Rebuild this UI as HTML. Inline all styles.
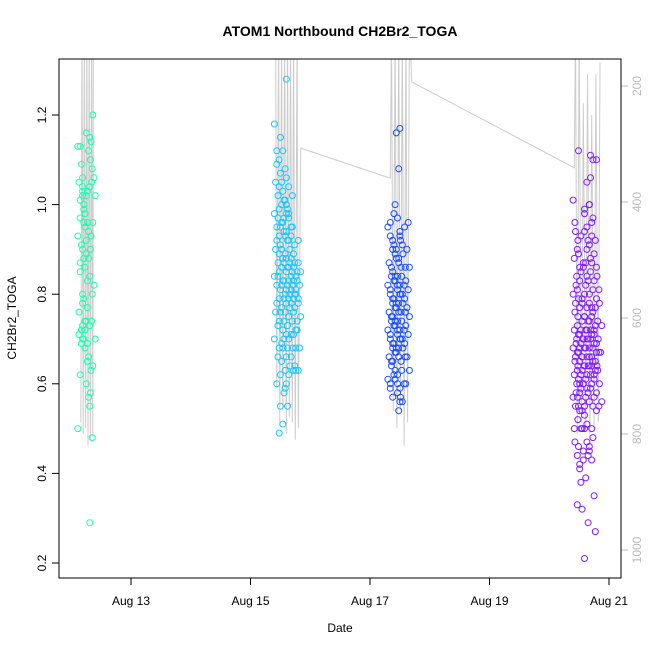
<!DOCTYPE html>
<html><head><meta charset="utf-8"><style>
body{margin:0;background:#fff;}
svg{display:block;font-family:"Liberation Sans",Arial,sans-serif;}
</style></head><body>
<svg id="chart" width="650" height="650" viewBox="0 0 650 650">
<defs><clipPath id="plotclip"><rect x="59" y="59" width="562" height="519"/></clipPath></defs>
<text x="340" y="36" text-anchor="middle" font-size="14" font-weight="bold">ATOM1 Northbound CH2Br2_TOGA</text>
<text x="340" y="632" text-anchor="middle" font-size="12">Date</text>
<text transform="translate(16,318) rotate(-90)" text-anchor="middle" font-size="12">CH2Br2_TOGA</text>
<g id="pressure" clip-path="url(#plotclip)"></g>
<g id="points"></g>
<g id="axes"></g>
<rect x="59" y="59" width="562" height="519" fill="none" stroke="#000" stroke-width="1"/>
</svg>
<script>
const xTicks = [13, 15, 17, 19, 21];
const xTickLabels = ["Aug 13", "Aug 15", "Aug 17", "Aug 19", "Aug 21"];
const yTicks = [0.2, 0.4, 0.6, 0.8, 1.0, 1.2];
const yTickLabels = ["0.2", "0.4", "0.6", "0.8", "1.0", "1.2"];
const pTicks = [200, 400, 600, 800, 1000];
const pTickLabels = ["200", "400", "600", "800", "1000"];

const clusterColors = ["#1affb2", "#1ac6ff", "#1a4dff", "#801aff"];
const c1Times = [12.15, 12.19, 12.23, 12.27, 12.31, 12.36];
const c1Values = [
 [0.50,0.62,0.73,0.71,0.69,0.93,0.97,1.02,1.05,1.09,1.13,0.87,0.80,0.76,0.72],
 [0.99,1.01,1.03,0.95,0.91,0.88,0.85,0.78,0.74,0.72,0.70,1.13,1.04],
 [0.96,0.92,0.90,0.86,0.83,0.79,0.74,0.70,0.68,0.65,1.00,1.02,1.06],
 [0.55,0.60,0.66,0.72,0.77,0.84,0.89,0.94,0.98,1.03,1.15,1.16],
 [0.29,0.48,0.57,0.63,0.69,0.73,0.80,0.88,0.93,0.96,1.04,1.08,1.12,1.14],
 [0.58,0.64,0.70,0.74,0.82,0.90,0.96,1.02,1.05,1.06,1.10,1.20]];
const c2Times = [15.44, 15.48, 15.52, 15.56, 15.60, 15.64, 15.68, 15.72, 15.76, 15.80];
const c2Values = [
 [1.18,1.12,1.10,1.05,1.02,0.98,0.95,0.93,0.90,0.87,0.84,0.82,0.79,0.76,0.73,0.70],
 [1.15,1.09,1.04,1.00,0.97,0.95,0.92,0.89,0.86,0.84,0.81,0.78,0.74,0.69,0.66,0.62,0.60],
 [1.07,1.03,0.99,0.96,0.94,0.91,0.88,0.85,0.82,0.79,0.76,0.72,0.68,0.65,0.58,0.55,0.51,0.49],
 [1.28,1.12,1.08,1.05,1.01,0.98,0.96,0.93,0.90,0.87,0.85,0.83,0.80,0.77,0.74,0.71,0.68,0.63],
 [1.06,1.04,1.01,0.99,0.97,0.94,0.92,0.89,0.86,0.83,0.81,0.79,0.76,0.73,0.70,0.66,0.62,0.59,0.55],
 [1.00,0.97,0.95,0.92,0.90,0.88,0.86,0.84,0.82,0.80,0.78,0.75,0.71,0.68,0.64,0.60],
 [1.02,0.98,0.93,0.89,0.87,0.85,0.83,0.81,0.79,0.77,0.74,0.70,0.66,0.63],
 [0.95,0.91,0.88,0.86,0.84,0.82,0.80,0.78,0.76,0.72,0.68,0.64],
 [0.92,0.87,0.85,0.83,0.81,0.79,0.77,0.74,0.71,0.68,0.63],
 [0.87,0.85,0.83,0.82,0.80,0.78,0.75,0.72,0.68,0.63]];
const c3Times = [17.34, 17.38, 17.42, 17.46, 17.50, 17.55, 17.62];
const c3Values = [
 [0.95,0.93,0.90,0.87,0.84,0.82,0.80,0.78,0.76,0.74,0.72,0.70,0.68,0.66,0.64,0.61,0.59,0.57],
 [0.98,0.96,0.92,0.89,0.86,0.83,0.81,0.79,0.77,0.75,0.73,0.71,0.69,0.67,0.65,0.62,0.60],
 [0.91,0.88,0.85,0.83,0.81,0.79,0.77,0.75,0.73,0.71,0.69,0.67,0.65,0.63,0.60],
 [1.17,1.16,1.08,1.00,0.97,0.93,0.90,0.87,0.84,0.82,0.80,0.78,0.76,0.74,0.72,0.70,0.68,0.66,0.61,0.58,0.56],
 [0.94,0.91,0.88,0.86,0.84,0.82,0.80,0.78,0.76,0.74,0.72,0.70,0.68,0.65,0.62,0.59,0.56,0.54],
 [0.92,0.89,0.86,0.84,0.82,0.80,0.78,0.76,0.74,0.72,0.70,0.68,0.66,0.63,0.60,0.57],
 [0.96,0.95,0.90,0.86,0.83,0.81,0.79,0.77,0.75,0.73,0.71,0.69,0.66,0.63,0.60]];
const c4Times = [20.44, 20.47, 20.51, 20.55, 20.59, 20.63, 20.67, 20.71, 20.75, 20.79, 20.84];
const c4Values = [
 [1.01,0.94,0.92,0.88,0.84,0.80,0.78,0.75,0.72,0.70,0.68,0.66,0.64,0.62,0.60,0.57,0.55,0.52,0.50],
 [1.12,0.96,0.90,0.86,0.82,0.79,0.76,0.73,0.71,0.69,0.67,0.65,0.63,0.60,0.58,0.55,0.47,0.44,0.42],
 [0.89,0.85,0.81,0.77,0.74,0.71,0.69,0.67,0.65,0.63,0.61,0.59,0.57,0.54,0.50,0.46,0.38,0.33],
 [0.98,0.93,0.87,0.83,0.79,0.75,0.72,0.70,0.68,0.66,0.64,0.62,0.60,0.58,0.56,0.53,0.50,0.45,0.41,0.32],
 [0.94,0.90,0.86,0.82,0.78,0.75,0.72,0.70,0.68,0.66,0.64,0.62,0.60,0.57,0.54,0.50,0.47,0.43],
 [0.99,0.95,0.91,0.87,0.83,0.80,0.77,0.74,0.72,0.70,0.68,0.66,0.64,0.61,0.58,0.55,0.51,0.45,0.39,0.29,0.21],
 [1.06,1.05,1.00,0.96,0.92,0.88,0.84,0.80,0.77,0.74,0.72,0.70,0.68,0.66,0.64,0.62,0.59,0.56,0.50,0.44],
 [1.11,1.10,1.00,0.93,0.89,0.85,0.81,0.78,0.75,0.72,0.70,0.68,0.66,0.64,0.62,0.59,0.55,0.46,0.43,0.35],
 [1.10,0.97,0.92,0.87,0.83,0.79,0.76,0.73,0.71,0.69,0.67,0.65,0.63,0.60,0.57,0.54,0.48,0.27],
 [0.86,0.81,0.77,0.74,0.71,0.69,0.67,0.65,0.63,0.61,0.58,0.55],
 [0.84,0.78,0.73,0.70,0.67,0.64,0.60,0.56]];

const pressureTimes = [12.16,12.18,12.20,12.22,12.24,12.26,12.28,12.30,12.32,12.34,12.36,12.37,12.39,
 15.42,15.44,15.47,15.49,15.52,15.54,15.57,15.60,15.62,15.65,15.67,15.70,15.72,15.75,15.78,15.80,15.84,
 17.34,17.36,17.39,17.42,17.45,17.48,17.51,17.54,17.57,17.60,17.63,17.66,17.70,
 20.42,20.44,20.47,20.50,20.54,20.57,20.61,20.64,20.68,20.71,20.75,20.78,20.82,20.85];
const pressureValues = [780,100,800,100,790,100,820,100,810,100,805,100,120,
 100,720,100,780,100,760,100,800,100,770,100,780,100,810,100,790,307,
 359,100,760,100,790,100,760,100,820,100,780,100,193,
 341,100,800,100,780,230,790,180,800,250,790,180,780,160];

const xS = d => 131 + (d - 13) * 59.75;
const yS = v => 563 - (v - 0.2) * 448;
const pS = p => 86 + (p - 200) * 0.58;
const NS = "http://www.w3.org/2000/svg";
function mk(tag, attrs, parent){ const e=document.createElementNS(NS,tag); for(const k in attrs) e.setAttribute(k,attrs[k]); parent.appendChild(e); return e; }

const pg = document.getElementById('pressure');
const pl = mk('polyline', {points: pressureTimes.map((t,i)=>xS(t).toFixed(1)+','+pS(pressureValues[i]).toFixed(1)).join(' '), fill:'none', stroke:'#cccccc', 'stroke-width':1}, pg);



const ptg = document.getElementById('points');
const clusters = [[c1Times,c1Values],[c2Times,c2Values],[c3Times,c3Values],[c4Times,c4Values]];
clusters.forEach((c, ci) => {
  c[0].forEach((t, gi) => {
    c[1][gi].forEach((v, i) => {
      const jit = ((i * 7 + gi * 3) % 5 - 2) * 1.2;
      const el = mk('circle', {cx:(xS(t)+jit).toFixed(1), cy:yS(v).toFixed(1), r:3, fill:'none', stroke:clusterColors[ci], 'stroke-width':1}, ptg);
      
      
    });
  });
});

const ag = document.getElementById('axes');
xTicks.forEach((d, i) => {
  const ln = mk('line', {x1:xS(d), x2:xS(d), y1:578, y2:585, stroke:'#000'}, ag);
  
  
  const tx = mk('text', {x:xS(d), y:605, 'text-anchor':'middle', 'font-size':12}, ag);
  tx.textContent = xTickLabels[i];
  
  
});
yTicks.forEach((v, i) => {
  const ln = mk('line', {x1:52, x2:59, y1:yS(v), y2:yS(v), stroke:'#000'}, ag);
  
  
  const tx = mk('text', {transform:`translate(46,${yS(v)}) rotate(-90)`, 'text-anchor':'middle', 'font-size':12}, ag);
  tx.textContent = yTickLabels[i];
  
  
});
pTicks.forEach((p, i) => {
  const ln = mk('line', {x1:621, x2:628, y1:pS(p), y2:pS(p), stroke:'#bbbbbb'}, ag);
  
  
  const tx = mk('text', {transform:`translate(641,${pS(p)}) rotate(-90)`, 'text-anchor':'middle', 'font-size':12, fill:'#bbbbbb'}, ag);
  tx.textContent = pTickLabels[i];
  
  
});
</script>
</body></html>
